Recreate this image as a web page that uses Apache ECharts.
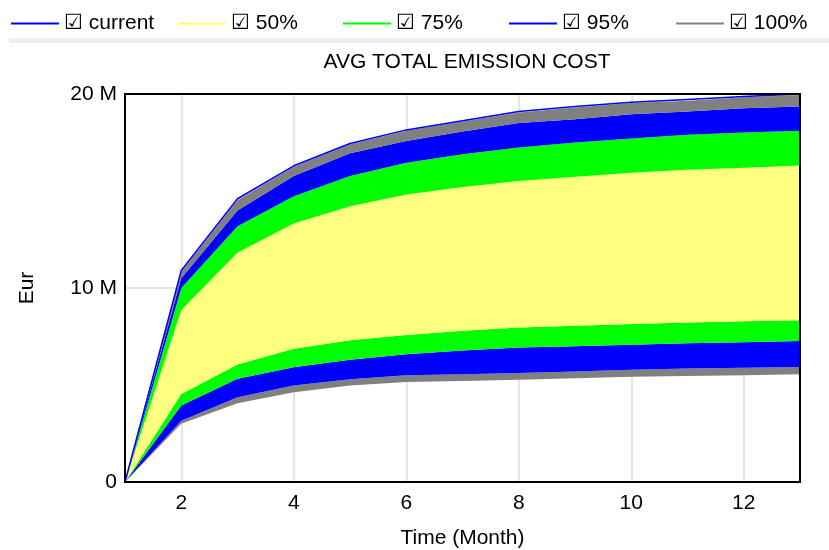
<!DOCTYPE html>
<html>
<head>
<meta charset="utf-8">
<script src="https://cdn.jsdelivr.net/npm/echarts@6/dist/echarts.min.js"></script>
<style>html,body{margin:0;padding:0;background:#fff}#c{width:829px;height:550px}</style>
</head>
<body>
<div id="c"></div>
<script>
// Data (values in million Eur)
const months = ['1', '2', '3', '4', '5', '6', '7', '8', '9', '10', '11', '12', '13'];
const current = [0, 10.9, 14.6, 16.3, 17.45, 18.15, 18.62, 19.1, 19.35, 19.57, 19.72, 19.87, 20.0];
const min0    = [0, 3.0, 4.06, 4.63, 4.97, 5.15, 5.2, 5.27, 5.35, 5.42, 5.47, 5.5, 5.55];
const p025    = [0, 3.16, 4.37, 4.97, 5.3, 5.5, 5.56, 5.62, 5.7, 5.78, 5.85, 5.89, 5.93];
const p125    = [0, 3.94, 5.32, 5.92, 6.3, 6.58, 6.78, 6.93, 7.0, 7.08, 7.15, 7.2, 7.27];
const p25     = [0, 4.54, 6.06, 6.87, 7.31, 7.58, 7.8, 7.96, 8.06, 8.15, 8.22, 8.28, 8.34];
const p75     = [0, 8.86, 11.83, 13.32, 14.21, 14.82, 15.2, 15.51, 15.73, 15.94, 16.1, 16.2, 16.32];
const p875    = [0, 10.0, 13.18, 14.73, 15.77, 16.46, 16.89, 17.24, 17.5, 17.7, 17.9, 18.02, 18.1];
const p975    = [0, 10.5, 14.0, 15.77, 16.94, 17.58, 18.07, 18.5, 18.7, 18.96, 19.1, 19.26, 19.36];
const max0    = [0, 10.84, 14.52, 16.25, 17.41, 18.1, 18.58, 19.05, 19.3, 19.53, 19.65, 19.83, 19.95];
const xTickLabels = ['2', '4', '6', '8', '10', '12'];
const yTicks = [0, 10, 20];

const SCALE = 1e6;
const FONT = "'Liberation Sans', Arial, sans-serif";
const C = {gray: '#808080', blue: '#0000ff', green: '#00ff00', yellow: '#ffff80', yellowLegend: '#ffff66', cur: '#0000ff'};

function vals(arr) { return arr.map(v => v * SCALE); }
function diff(hi, lo) { return hi.map((v, i) => (v - lo[i]) * SCALE); }

function band(name, color, data) {
  return {
    name: name, type: 'line', stack: 'fan', data: data,
    symbol: 'none', showSymbol: false, silent: true,
    color: color,
    itemStyle: {color: color},
    lineStyle: {width: 0, color: color},
    areaStyle: {color: color, opacity: 1},
    emphasis: {disabled: true},
    animation: false
  };
}

const series = [
  {name: 'base', type: 'line', stack: 'fan', data: vals(min0), symbol: 'none', silent: true,
   lineStyle: {width: 0, opacity: 0}, itemStyle: {opacity: 0}, emphasis: {disabled: true}, animation: false},
  band('100%', C.gray, diff(p025, min0)),
  band('95%', C.blue, diff(p125, p025)),
  band('75%', C.green, diff(p25, p125)),
  band('50%', C.yellow, diff(p75, p25)),
  band('75%', C.green, diff(p875, p75)),
  band('95%', C.blue, diff(p975, p875)),
  band('100%', C.gray, diff(max0, p975)),
  {name: 'current', type: 'line', data: vals(current), symbol: 'none', showSymbol: false,
   color: C.cur, itemStyle: {color: C.cur}, lineStyle: {width: 1.5, color: C.cur}, z: 5,
   emphasis: {disabled: true}, animation: false}
];

function leg(name, color, left) {
  return {
    data: [{name: name, itemStyle: {color: color}}],
    left: left, top: 8, icon: 'rect', itemWidth: 48, itemHeight: 2,
    selectedMode: false,
    formatter: '\u2611 {name}',
    textStyle: {fontSize: 21, color: '#000', fontFamily: FONT}
  };
}

const showTick = (idx, val) => xTickLabels.includes(String(val));

const chart = echarts.init(document.getElementById('c'), null, {renderer: 'canvas'});
chart.setOption({
  animation: false,
  backgroundColor: '#fff',
  title: {
    text: 'AVG TOTAL EMISSION COST', left: 462, top: 47, textAlign: 'center',
    textStyle: {fontSize: 21, fontWeight: 'normal', color: '#000', fontFamily: FONT}
  },
  legend: [
    leg('current', C.cur, 6),
    leg('50%', C.yellowLegend, 173),
    leg('75%', C.green, 338),
    leg('95%', C.blue, 504),
    leg('100%', C.gray, 671)
  ],
  graphic: [
    {type: 'rect', left: 9, top: 38, shape: {width: 820, height: 5}, style: {fill: '#eeeeee'}, silent: true}
  ],
  grid: {left: 125, right: 29, top: 94, bottom: 68, outerBoundsMode: 'none', containLabel: false,
         show: true, borderColor: '#000', borderWidth: 2, backgroundColor: 'transparent', z: 10},
  xAxis: {
    type: 'category', data: months, boundaryGap: false,
    name: 'Time (Month)', nameLocation: 'middle', nameGap: 46,
    nameTextStyle: {fontSize: 21, color: '#000', fontFamily: FONT},
    axisLine: {show: false},
    axisTick: {show: false, interval: showTick},
    axisLabel: {interval: showTick, fontSize: 21, color: '#000', fontFamily: FONT, margin: 11},
    splitLine: {show: true, interval: showTick, lineStyle: {color: '#dcdcdc', width: 1.5}}
  },
  yAxis: {
    type: 'value', min: 0, max: 20 * SCALE, interval: 10 * SCALE,
    name: 'Eur', nameLocation: 'middle', nameGap: 87, nameRotate: 90,
    nameTextStyle: {fontSize: 21, color: '#000', fontFamily: FONT},
    axisLine: {show: false},
    axisTick: {show: false},
    axisLabel: {
      fontSize: 21, color: '#000', fontFamily: FONT, margin: 8,
      formatter: v => { const m = Math.round(v / SCALE); return yTicks.includes(m) ? (m === 0 ? '0' : m + ' M') : ''; }
    },
    splitLine: {show: true, lineStyle: {color: '#dcdcdc', width: 1.5}}
  },
  series: series
});
</script>
</body>
</html>
